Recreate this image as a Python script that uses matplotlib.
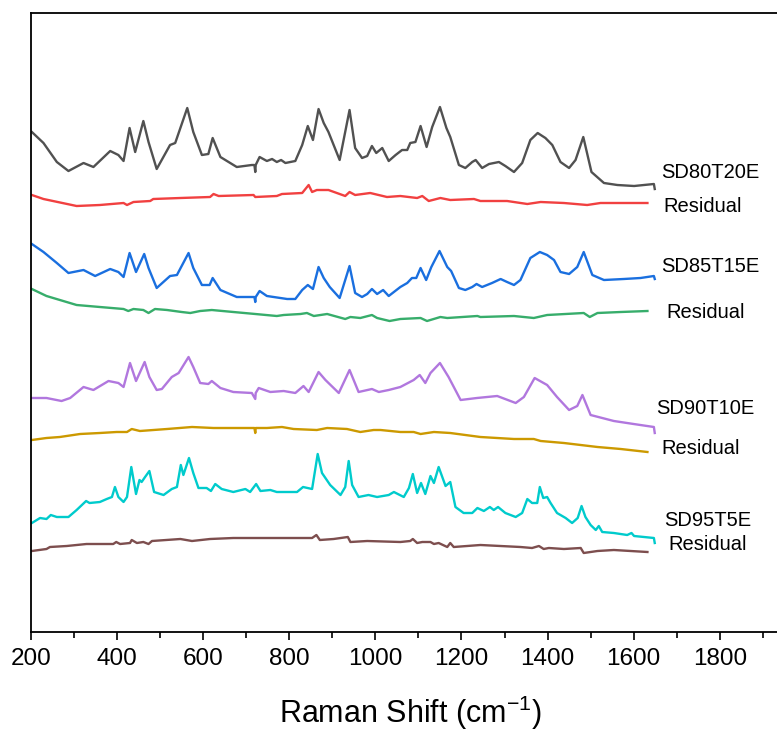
import matplotlib
matplotlib.use("Agg")
import matplotlib.pyplot as plt
from matplotlib.ticker import MultipleLocator

# Raman shift (cm-1) / stacked intensity (a.u., offsets included)
sd80_shift = [202, 229, 260, 287, 322, 345, 384, 403, 415, 429, 442, 461, 473, 492, 523, 535,
              563, 577, 597, 612, 622, 640, 678, 713, 719, 721, 722, 731, 748, 760, 771, 781,
              791, 814, 830, 843, 855, 868, 880, 891, 917, 940, 953, 969, 981, 992, 1002, 1016,
              1031, 1047, 1062, 1074, 1081, 1093, 1105, 1119, 1132, 1150, 1165, 1174, 1194, 1209,
              1225, 1233, 1248, 1264, 1287, 1302, 1322, 1341, 1360, 1377, 1395, 1411, 1430, 1450,
              1465, 1483, 1502, 1531, 1562, 1601, 1647, 1649]
sd80_int = [500, 489, 470, 461, 469, 465, 481, 477, 471, 504, 480, 511, 490, 463, 487, 489,
            524, 500, 477, 478, 494, 475, 465, 467, 467, 460, 467, 475, 471, 473, 470, 472,
            469, 471, 487, 506, 492, 523, 509, 500, 472, 522, 484, 474, 476, 486, 479, 484,
            471, 477, 482, 482, 489, 490, 506, 485, 505, 525, 504, 495, 467, 464,
            470, 472, 464, 468, 470, 466, 460, 469, 492, 499, 494, 487, 470, 464,
            472, 495, 460, 449, 447, 446, 448, 443]

res80_shift = [202, 229, 306, 360, 415, 423, 438, 477, 484, 547, 616, 624, 636, 717, 721, 771,
               783, 830, 845, 853, 864, 891, 930, 940, 953, 988, 1027, 1058, 1097, 1109, 1124,
               1151, 1174, 1229, 1244, 1306, 1353, 1384, 1438, 1492, 1523, 1632]
res80_int = [437, 433, 426, 427, 429, 427, 430, 431, 433, 434, 435, 438, 436, 437, 435, 436,
             438, 439, 447, 440, 442, 442, 436, 440, 437, 439, 435, 436, 434, 436, 431,
             434, 432, 433, 431, 431, 428, 430, 429, 427, 429, 429]

sd85_shift = [202, 229, 260, 287, 322, 349, 384, 403, 415, 429, 444, 463, 473, 492, 523, 539,
              566, 577, 597, 615, 622, 640, 678, 713, 719, 721, 722, 731, 748, 795, 814, 830,
              843, 855, 868, 880, 894, 917, 940, 953, 969, 981, 992, 1004, 1018, 1031, 1058,
              1074, 1085, 1095, 1105, 1118, 1130, 1149, 1167, 1176, 1194, 1209, 1225, 1235,
              1248, 1271, 1291, 1306, 1322, 1337, 1360, 1382, 1399, 1415, 1430, 1450, 1469,
              1484, 1504, 1531, 1577, 1616, 1647, 1649]
sd85_int = [388, 380, 369, 359, 362, 356, 363, 360, 355, 379, 360, 378, 364, 344, 356, 357,
            379, 364, 347, 347, 354, 342, 335, 335, 335, 330, 335, 341, 336, 333, 333, 342,
            347, 343, 365, 354, 345, 334, 366, 339, 335, 338, 343, 338, 342, 336, 345,
            349, 354, 354, 364, 352, 365, 381, 365, 361, 344, 342, 345, 348,
            345, 349, 353, 350, 347, 352, 374, 380, 377, 372, 360, 358, 365,
            380, 357, 352, 353, 354, 356, 353]

res85_shift = [202, 236, 306, 360, 415, 426, 438, 461, 473, 488, 516, 550, 570, 593, 620, 670,
               721, 771, 787, 826, 841, 857, 888, 930, 942, 965, 992, 1004, 1033, 1058, 1105,
               1120, 1151, 1167, 1237, 1244, 1322, 1368, 1399, 1484, 1498, 1516, 1570, 1632]
res85_int = [343, 336, 327, 325, 323, 321, 323, 322, 319, 323, 322, 320, 319, 321, 322, 320,
             318, 316, 317, 318, 319, 316, 318, 313, 315, 314, 317, 314, 311, 313, 314,
             311, 315, 314, 316, 315, 316, 314, 317, 319, 315, 319, 320, 321]

sd90_shift = [202, 236, 271, 291, 322, 345, 380, 403, 415, 430, 444, 464, 475, 492, 504, 527,
              543, 566, 577, 593, 612, 620, 640, 670, 713, 721, 722, 729, 756, 787, 814, 833,
              845, 868, 884, 915, 940, 961, 992, 1008, 1031, 1058, 1089, 1103, 1116, 1128,
              1150, 1170, 1198, 1236, 1283, 1326, 1345, 1370, 1399, 1422, 1450, 1469, 1481,
              1500, 1554, 1600, 1647, 1649]
sd90_int = [234, 234, 231, 234, 245, 242, 251, 249, 245, 269, 251, 270, 255, 242, 243, 255,
            259, 275, 265, 249, 248, 251, 244, 240, 239, 233, 239, 244, 240, 241, 239, 246,
            240, 260, 252, 239, 262, 240, 243, 240, 242, 245, 252, 257, 249, 259,
            269, 255, 232, 234, 236, 229, 235, 254, 247, 235, 222, 226, 237,
            217, 211, 208, 205, 199]

res90_shift = [202, 236, 267, 314, 360, 399, 423, 434, 453, 516, 574, 624, 670, 719, 721, 722,
               748, 783, 810, 864, 888, 934, 965, 996, 1012, 1058, 1089, 1105, 1136, 1174,
               1244, 1322, 1368, 1384, 1438, 1516, 1570, 1632]
res90_int = [192, 194, 195, 198, 199, 200, 200, 203, 201, 203, 205, 204, 204, 204, 199, 204,
             204, 205, 203, 202, 204, 203, 200, 202, 202, 200, 200, 198, 200, 199,
             195, 193, 193, 191, 189, 185, 183, 180]

sd95_shift = [202, 221, 236, 246, 260, 287, 306, 328, 336, 360, 376, 388, 395, 403, 415, 423,
              433, 444, 452, 457, 465, 475, 486, 508, 527, 539, 548, 554, 567, 577, 589, 608,
              618, 628, 643, 670, 698, 709, 723, 733, 756, 771, 818, 832, 853, 866, 876, 895,
              919, 930, 938, 946, 961, 984, 1004, 1031, 1043, 1066, 1078, 1087, 1097, 1106,
              1116, 1128, 1136, 1147, 1163, 1174, 1186, 1205, 1225, 1237, 1252, 1266, 1275,
              1285, 1302, 1326, 1341, 1353, 1364, 1376, 1382, 1390, 1399, 1407, 1422, 1442,
              1457, 1470, 1479, 1488, 1500, 1512, 1519, 1527, 1554, 1585, 1595, 1601, 1647, 1649]
sd95_int = [109, 114, 113, 117, 115, 115, 122, 131, 129, 130, 133, 135, 145, 135, 130, 135,
            165, 138, 152, 150, 155, 161, 140, 137, 143, 145, 167, 157, 174, 159, 144, 144,
            141, 148, 143, 140, 143, 140, 148, 141, 142, 140, 140, 145, 143, 178, 159, 147,
            137, 145, 171, 147, 135, 137, 135, 137, 140, 135, 144, 158, 139, 149,
            138, 156, 149, 165, 146, 150, 125, 119, 119, 124, 121, 125, 122,
            125, 119, 115, 119, 133, 129, 129, 145, 134, 135, 129, 119, 114,
            109, 114, 126, 115, 107, 102, 106, 100, 99, 97, 99, 96, 94, 89]

res95_shift = [202, 236, 244, 283, 329, 360, 391, 398, 407, 430, 434, 446, 461, 473, 481, 547,
               574, 616, 670, 748, 826, 853, 863, 871, 903, 936, 942, 981, 1058, 1081, 1087,
               1097, 1109, 1128, 1136, 1147, 1167, 1174, 1182, 1244, 1337, 1364, 1380, 1391,
               1403, 1438, 1477, 1484, 1516, 1554, 1632]
res95_int = [81, 83, 85, 86, 88, 88, 88, 90, 88, 89, 92, 89, 90, 88, 91, 93,
             91, 93, 94, 94, 94, 94, 97, 92, 93, 95, 90, 91, 90, 91, 93,
             89, 90, 90, 88, 89, 85, 89, 85, 87, 85, 84, 86, 83,
             84, 83, 84, 79, 81, 82, 80]

label_text = ["SD80T20E", "Residual", "SD85T15E", "Residual",
              "SD90T10E", "Residual", "SD95T5E", "Residual"]
label_x = [1663, 1670, 1665, 1677, 1653, 1665, 1670, 1681]
label_y = [460, 425, 365, 319, 223, 184, 112, 87]

# Origin "bright" palette
colors = ["#515151", "#F14040", "#1A6FDF", "#37AD6B",
          "#B177DE", "#CC9900", "#00CBCC", "#7D4E4E"]

traces = [(sd80_shift, sd80_int), (res80_shift, res80_int),
          (sd85_shift, sd85_int), (res85_shift, res85_int),
          (sd90_shift, sd90_int), (res90_shift, res90_int),
          (sd95_shift, sd95_int), (res95_shift, res95_int)]

plt.rcParams["font.family"] = ["Liberation Sans", "DejaVu Sans"]
plt.rcParams["mathtext.fontset"] = "custom"
plt.rcParams["mathtext.rm"] = "Liberation Sans"

fig = plt.figure(figsize=(7.77, 7.31), dpi=100)
ax = fig.add_axes([31 / 777, 99 / 731, 746 / 777, 619 / 731])

for (x, y), c in zip(traces, colors):
    ax.plot(x, y, color=c, lw=1.7, solid_joinstyle="round")

for t, lx, ly in zip(label_text, label_x, label_y):
    ax.text(lx, ly, t, fontsize=14.5, ha="left", va="center", color="black")

ax.set_xlim(200, 1933)
ax.set_ylim(0, 619)
ax.set_yticks([])
ax.xaxis.set_major_locator(MultipleLocator(200))
ax.xaxis.set_minor_locator(MultipleLocator(100))
ax.tick_params(axis="x", which="major", direction="out", length=5.5, width=1.2,
               pad=6, labelsize=17.5)
ax.tick_params(axis="x", which="minor", direction="out", length=4, width=1.2)
ax.spines["right"].set_visible(False)
for s in ["left", "bottom", "top"]:
    ax.spines[s].set_linewidth(1.3)

ax.set_xlabel("Raman Shift (cm$^{\\mathregular{-1}}$)", fontsize=22, va="center")
ax.xaxis.set_label_coords((410 - 31) / 746, -(713 - 632) / 619)

fig.savefig("out.png", dpi=100)
